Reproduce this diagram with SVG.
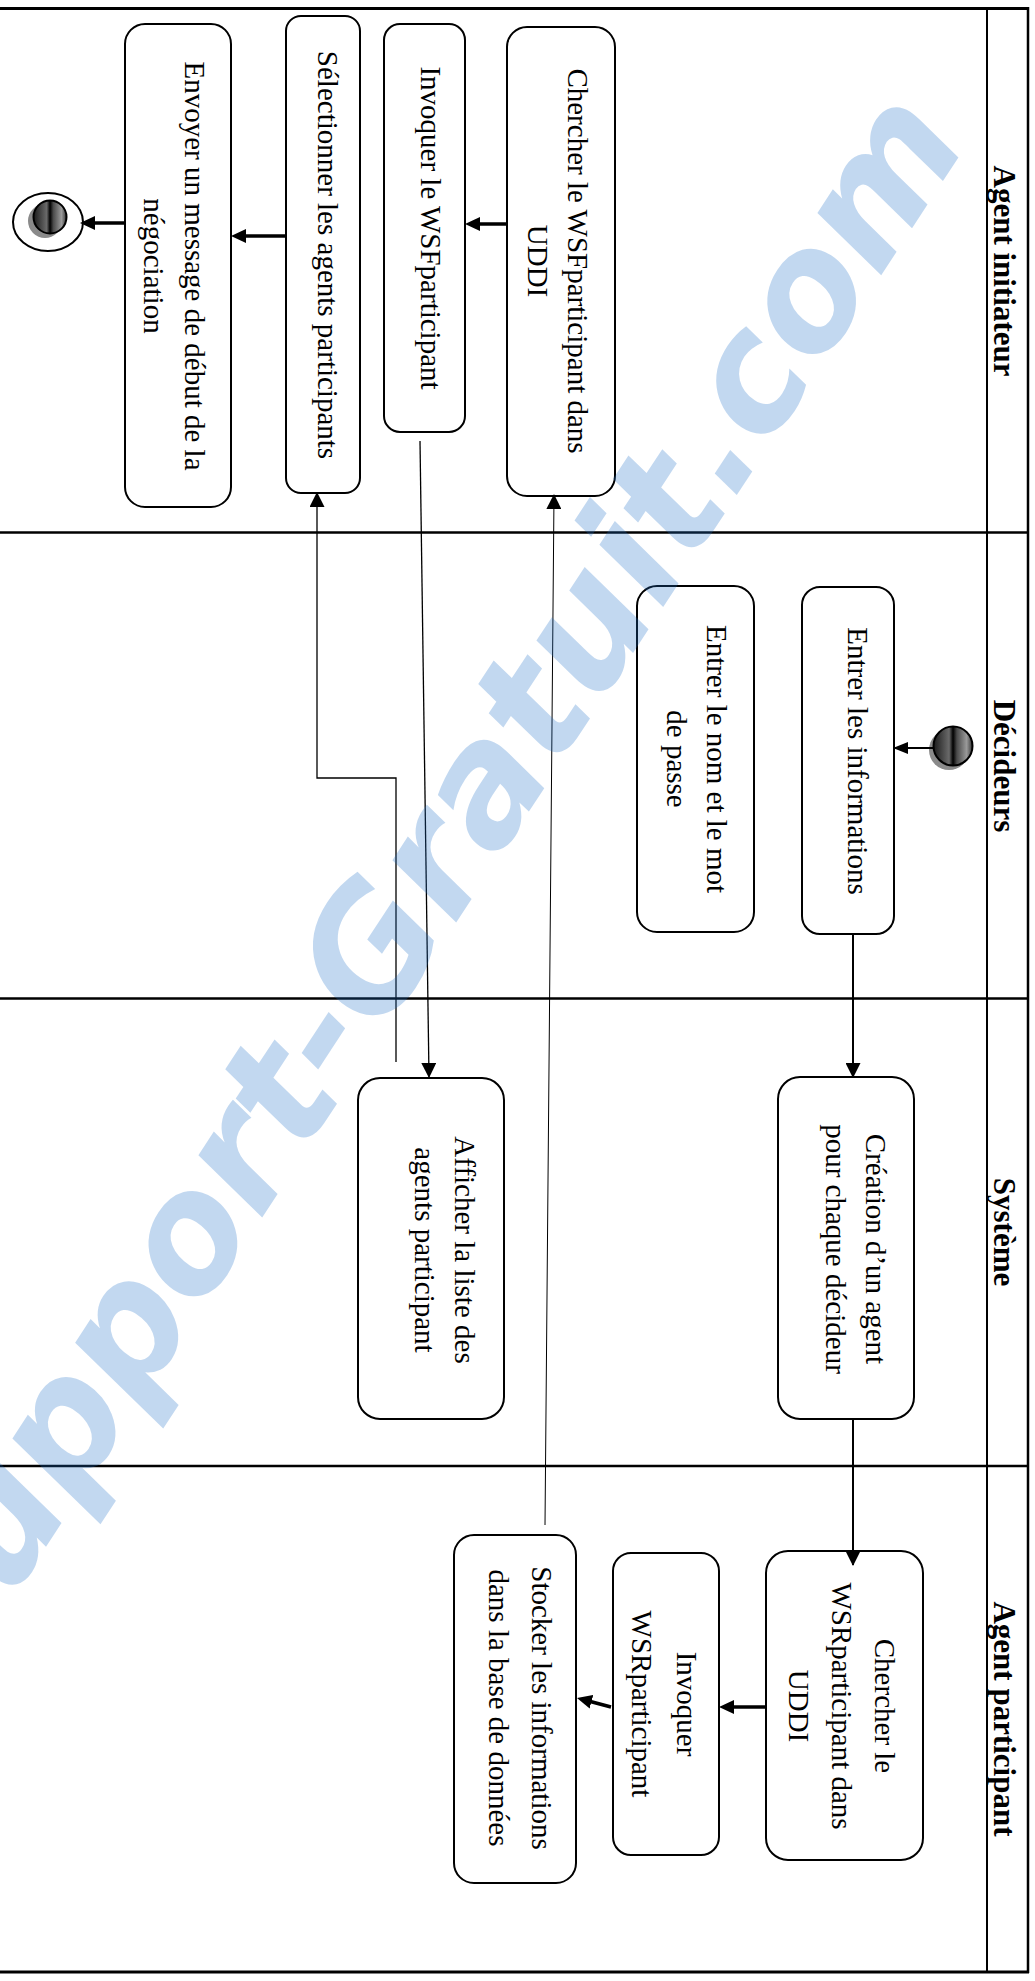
<svg xmlns="http://www.w3.org/2000/svg" width="1035" height="1981" viewBox="0 0 1035 1981">
<style>
.lane{stroke:#000;stroke-width:2.5;fill:none}
.box{fill:#fff;stroke:#000;stroke-width:2}
.t{font-family:"Liberation Serif","Times New Roman",serif;font-size:29px;text-anchor:middle;fill:#000}
.h{font-family:"Liberation Serif","Times New Roman",serif;font-size:31px;font-weight:bold;text-anchor:middle;fill:#000}
.thick{stroke:#000;stroke-width:3.5;fill:none;marker-end:url(#aht)}
.thin{stroke:#000;stroke-width:1.3;fill:none;marker-end:url(#ah)}
.med{stroke:#000;stroke-width:2;fill:none;marker-end:url(#ah)}
.wm{font-family:"DejaVu Sans",sans-serif;font-weight:bold;font-style:italic;font-size:160px;fill:#1e6ec8;fill-opacity:0.27}
</style>
<defs>
<marker id="aht" viewBox="0 0 15 14" refX="7" refY="7" markerWidth="15" markerHeight="14" markerUnits="userSpaceOnUse" orient="auto"><path d="M0,0 L15,7 L0,14 z" fill="#000"/></marker>
<marker id="ah" viewBox="0 0 15 15" refX="14" refY="7.5" markerWidth="15" markerHeight="15" markerUnits="userSpaceOnUse" orient="auto"><path d="M0,0 L15,7.5 L0,15 z" fill="#000"/></marker>
<marker id="ahs" viewBox="0 0 15 12" refX="14" refY="6" markerWidth="15" markerHeight="12" markerUnits="userSpaceOnUse" orient="auto"><path d="M0,0 L15,6 L0,12 z" fill="#000"/></marker>
<linearGradient id="ng" x1="0" y1="0" x2="1" y2="0">
<stop offset="0" stop-color="#1a1a1a"/><stop offset="0.4" stop-color="#6a6a6a"/><stop offset="0.5" stop-color="#000"/><stop offset="0.6" stop-color="#4a4a4a"/><stop offset="0.85" stop-color="#9a9a9a"/><stop offset="1" stop-color="#333"/>
</linearGradient>
</defs>
<rect width="1035" height="1981" fill="#fff"/>

<g id="lanes">
<line class="lane" x1="0" y1="8.5" x2="1029" y2="8.5" style="stroke-width:3"/>
<line class="lane" x1="0" y1="1972" x2="1029" y2="1972" style="stroke-width:3"/>
<line class="lane" x1="0" y1="532.5" x2="1029" y2="532.5"/>
<line class="lane" x1="0" y1="998.5" x2="1029" y2="998.5"/>
<line class="lane" x1="0" y1="1466" x2="1029" y2="1466"/>
<line class="lane" x1="987" y1="8" x2="987" y2="1972" style="stroke-width:2"/>
<line class="lane" x1="1028" y1="7" x2="1028" y2="1973"/>
<text class="h" transform="translate(994,271) rotate(90)">Agent initiateur</text>
<text class="h" transform="translate(994,766) rotate(90)">Décideurs</text>
<text class="h" transform="translate(994,1232) rotate(90)">Système</text>
<text class="h" transform="translate(994,1719) rotate(90)">Agent participant</text>
</g>

<g id="n_chercher_wsf">
<rect class="box" x="507" y="27" width="108" height="469" rx="20"/>
<text class="t" transform="translate(568,261) rotate(90)"><tspan x="0" y="0">Chercher le WSFparticipant dans</tspan><tspan x="0" dy="40">UDDI</tspan></text>
</g>
<g id="n_invoquer_wsf">
<rect class="box" x="384" y="24" width="81" height="408" rx="16"/>
<text class="t" transform="translate(421,228) rotate(90)">Invoquer le WSFparticipant</text>
</g>
<g id="n_selectionner">
<rect class="box" x="286" y="16" width="74" height="477" rx="15"/>
<text class="t" transform="translate(318,255) rotate(90)">Sélectionner les agents participants</text>
</g>
<g id="n_envoyer">
<rect class="box" x="125" y="24" width="106" height="483" rx="20"/>
<text class="t" transform="translate(185,266) rotate(90)"><tspan x="0" y="0">Envoyer un message de début de la</tspan><tspan x="0" dy="41">négociation</tspan></text>
</g>
<g id="n_final">
<ellipse cx="48" cy="222" rx="35" ry="29" fill="#fff" stroke="#000" stroke-width="2"/>
<circle cx="45" cy="221" r="17" fill="#8a8a8a"/>
<circle cx="50" cy="217" r="16.5" fill="url(#ng)" stroke="#000" stroke-width="2"/>
</g>
<g id="n_initial">
<circle cx="949" cy="750" r="20" fill="#8a8a8a"/>
<circle cx="953" cy="746" r="19.5" fill="url(#ng)" stroke="#000" stroke-width="2"/>
</g>
<g id="n_entrer_info">
<rect class="box" x="802" y="587" width="92" height="347" rx="18"/>
<text class="t" transform="translate(848,761) rotate(90)">Entrer les informations</text>
</g>
<g id="n_entrer_nom">
<rect class="box" x="637" y="586" width="117" height="346" rx="20"/>
<text class="t" transform="translate(707,759) rotate(90)"><tspan x="0" y="0">Entrer le nom et le mot</tspan><tspan x="0" dy="40">de passe</tspan></text>
</g>
<g id="n_creation">
<rect class="box" x="778" y="1077" width="136" height="342" rx="22"/>
<text class="t" transform="translate(866,1249) rotate(90)"><tspan x="0" y="0">Création d’un agent</tspan><tspan x="0" dy="40">pour chaque décideur</tspan></text>
</g>
<g id="n_afficher">
<rect class="box" x="358" y="1078" width="146" height="341" rx="22"/>
<text class="t" transform="translate(455,1250) rotate(90)"><tspan x="0" y="0">Afficher la liste des</tspan><tspan x="0" dy="40">agents participant</tspan></text>
</g>
<g id="n_chercher_wsr">
<rect class="box" x="766" y="1551" width="157" height="309" rx="22"/>
<text class="t" transform="translate(875,1706) rotate(90)"><tspan x="0" y="0">Chercher le</tspan><tspan x="0" dy="43">WSRparticipant dans</tspan><tspan x="0" dy="43">UDDI</tspan></text>
</g>
<g id="n_invoquer_wsr">
<rect class="box" x="613" y="1553" width="106" height="302" rx="18"/>
<text class="t" transform="translate(677,1704) rotate(90)"><tspan x="0" y="0">Invoquer</tspan><tspan x="0" dy="45">WSRparticipant</tspan></text>
</g>
<g id="n_stocker">
<rect class="box" x="454" y="1535" width="122" height="348" rx="20"/>
<text class="t" transform="translate(532,1708) rotate(90)"><tspan x="0" y="0">Stocker les informations</tspan><tspan x="0" dy="43">dans la base de données</tspan></text>
</g>

<g id="connectors">
<line x1="933" y1="748" x2="894" y2="748" stroke="#000" stroke-width="2" marker-end="url(#ahs)"/>
<line class="med" x1="853" y1="934" x2="853" y2="1077"/>
<line class="med" x1="853" y1="1419" x2="853" y2="1565"/>
<line class="thick" x1="766" y1="1707" x2="727" y2="1707"/>
<line class="thick" x1="611" y1="1707" x2="584.7" y2="1700"/>
<line class="thin" x1="545" y1="1525" x2="554" y2="495" style="stroke-width:1"/>
<line class="thick" x1="507" y1="224" x2="473" y2="224"/>
<line class="thin" x1="420" y1="441" x2="429" y2="1077"/>
<polyline class="thin" points="396,1062 396,778 317,778 317,493"/>
<line class="thick" x1="286" y1="236" x2="239" y2="236"/>
<line class="thick" x1="125" y1="223" x2="88" y2="223"/>
</g>

<text class="wm" transform="translate(970,140) rotate(-56.7)" text-anchor="end">Support-Gratuit.com</text>
</svg>
